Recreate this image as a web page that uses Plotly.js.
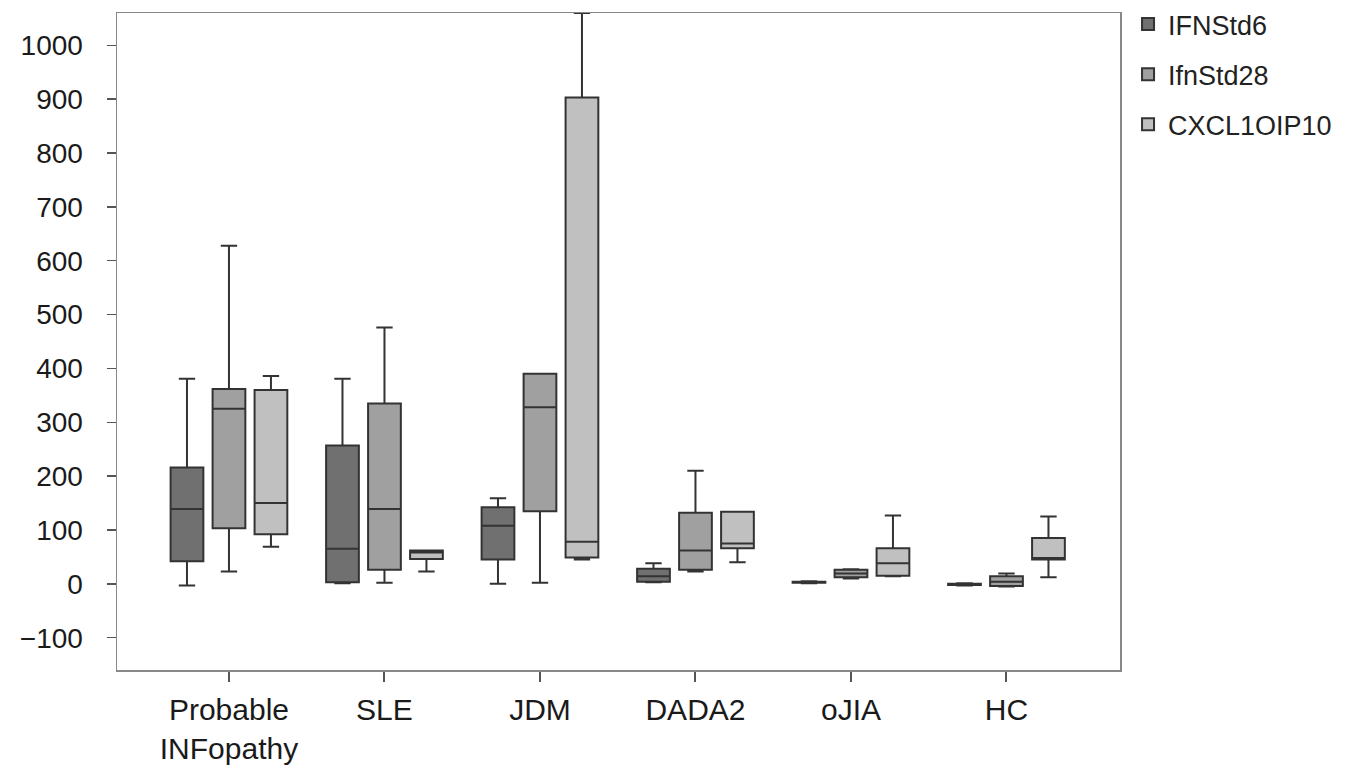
<!DOCTYPE html>
<html>
<head>
<meta charset="utf-8">
<script src="https://cdn.plot.ly/plotly-3.0.1.min.js"></script>
<style>html,body{margin:0;padding:0;background:#fff;}#chart{width:1355px;height:772px;}</style>
</head>
<body>
<div id="chart"></div>
<script>
const categories = ['Probable<br>INFopathy', 'SLE', 'JDM', 'DADA2', 'oJIA', 'HC'];
const seriesNames = ['IFNStd6', 'IfnStd28', 'CXCL1OIP10'];
const seriesColors = ['#707070', '#a0a0a0', '#c0c0c0'];

// IFNStd6
const ifn6_low = [-3, 1, 0, 3, 1, -3];
const ifn6_q1 = [42, 3, 45, 4, 2, -2];
const ifn6_med = [139, 65, 108, 14, 3, -1];
const ifn6_q3 = [216, 257, 142, 28, 4, 0];
const ifn6_high = [381, 381, 159, 38, 5, 1];

// IfnStd28
const ifn28_low = [23, 2, 2, 23, 10, -5];
const ifn28_q1 = [103, 26, 135, 26, 12, -4];
const ifn28_med = [325, 139, 328, 62, 19, 4];
const ifn28_q3 = [362, 335, 390, 132, 26, 14];
const ifn28_high = [628, 476, 390, 210, 27, 19];

// CXCL1OIP10
const cxcl_low = [69, 23, 45, 40, 14, 12];
const cxcl_q1 = [92, 46, 49, 66, 15, 45];
const cxcl_med = [150, 58, 78, 75, 38, 48];
const cxcl_q3 = [360, 62, 903, 134, 66, 85];
const cxcl_high = [386, 62, 1060, 134, 127, 125];

const yTicks = [-100, 0, 100, 200, 300, 400, 500, 600, 700, 800, 900, 1000];

const stats = [
  [ifn6_low, ifn6_q1, ifn6_med, ifn6_q3, ifn6_high],
  [ifn28_low, ifn28_q1, ifn28_med, ifn28_q3, ifn28_high],
  [cxcl_low, cxcl_q1, cxcl_med, cxcl_q3, cxcl_high]
];

const traces = stats.map((s, i) => ({
  type: 'box',
  name: seriesNames[i],
  legendgroup: 'g' + i,
  x: categories,
  lowerfence: s[0],
  q1: s[1],
  median: s[2],
  q3: s[3],
  upperfence: s[4],
  fillcolor: seriesColors[i],
  line: {color: '#333333', width: 2},
  whiskerwidth: 0.5,
  boxpoints: false,
  hoverinfo: 'skip'
}));

const fam = 'Liberation Sans, Arial, Helvetica, sans-serif';

const layout = {
  width: 1355,
  height: 772,
  margin: {l: 117, r: 235, t: 13, b: 102},
  paper_bgcolor: '#ffffff',
  plot_bgcolor: '#ffffff',
  boxmode: 'group',
  boxgap: 0.19,
  boxgroupgap: 0.22,
  showlegend: true,
  legend: {
    xref: 'container', yref: 'container',
    x: 0.8325, xanchor: 'left', y: 1.0, yanchor: 'top',
    font: {family: fam, size: 27, color: '#222'},
    tracegroupgap: 12,
    traceorder: 'grouped',
    bgcolor: 'rgba(0,0,0,0)'
  },
  xaxis: {
    type: 'category',
    range: [-0.72, 5.73],
    showline: true, linecolor: '#888', linewidth: 1.5, mirror: true,
    ticks: 'outside', ticklen: 10, tickcolor: '#555', tickwidth: 2,
    tickfont: {family: fam, size: 30, color: '#1a1a1a'},
    ticklabelstandoff: 2,
    showgrid: false, zeroline: false
  },
  yaxis: {
    range: [-160, 1060],
    tickvals: yTicks,
    ticktext: yTicks.map(v => v < 0 ? '\u2212' + Math.abs(v) : String(v)),
    showline: true, linecolor: '#888', linewidth: 1.5, mirror: true,
    ticks: 'outside', ticklen: 9, tickcolor: '#555', tickwidth: 1.5,
    tickfont: {family: fam, size: 28, color: '#1a1a1a'},
    ticklabelstandoff: 18,
    showgrid: false, zeroline: false
  }
};

Plotly.newPlot('chart', traces, layout, {displayModeBar: false, staticPlot: true});
</script>
</body>
</html>
